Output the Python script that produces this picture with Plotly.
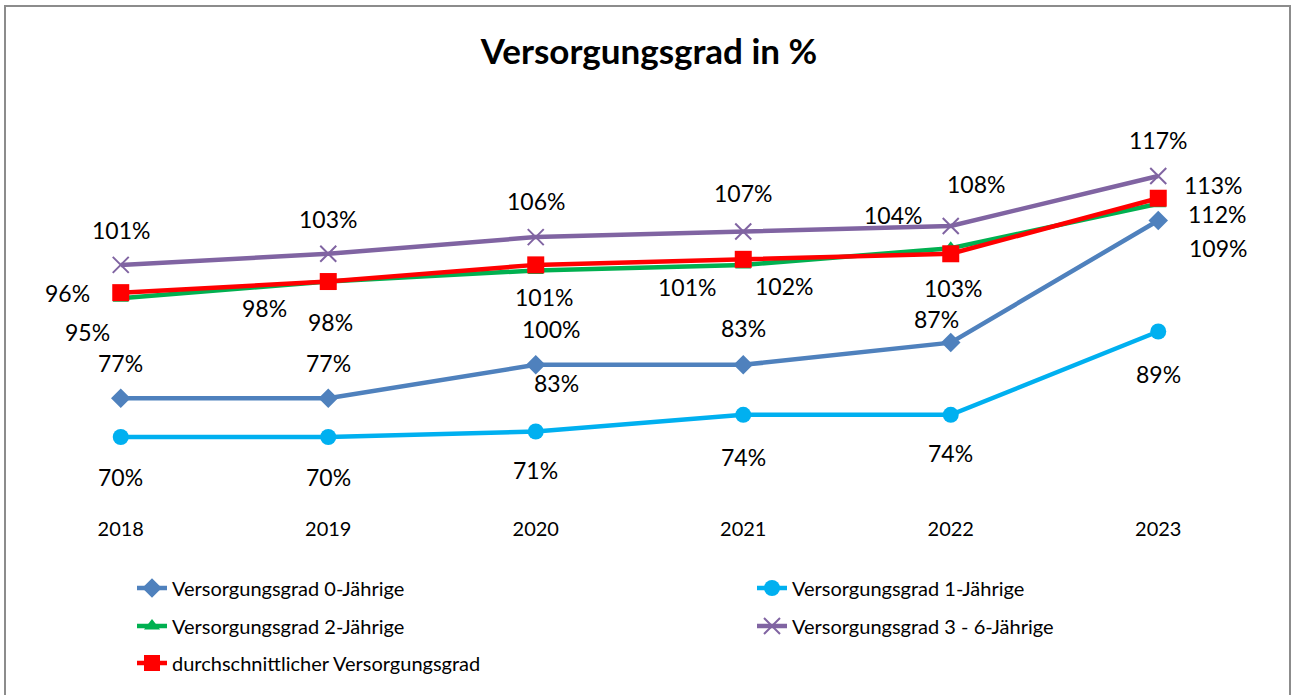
import plotly.graph_objects as go

years = ["2018", "2019", "2020", "2021", "2022", "2023"]
names = [
    "Versorgungsgrad 0-Jährige",
    "Versorgungsgrad 1-Jährige",
    "Versorgungsgrad 2-Jährige",
    "Versorgungsgrad 3 - 6-Jährige",
    "durchschnittlicher Versorgungsgrad",
]
v0 = [77, 77, 83, 83, 87, 109]
v1 = [70, 70, 71, 74, 74, 89]
v2 = [95, 98, 100, 101, 104, 112]
v36 = [101, 103, 106, 107, 108, 117]
vavg = [96, 98, 101, 102, 103, 113]

series = [v0, v1, v2, v36, vavg]

# styles
colors = ["#4F81BD", "#00B0F0", "#00B050", "#8064A2", "#FF0000"]
symbols = ["diamond", "circle", "triangle-up", "x-thin", "square"]
msizes = [15, 16, 14, 16, 17]

# label pixel offsets (dx, dy) per series per point (screen px, dy positive = down)
label_offsets = [
    [(0, -35), (0, -35), (21, 18), (0, -37), (-14, -24), (60, 28)],
    [(0, 40), (0, 40), (0, 39), (0, 42), (0, 38), (0, 42)],
    [(-33, 34), (2, 40), (15, 59), (-56, 22), (-58, -33), (59, 10)],
    [(0, -35), (0, -35), (0, -36), (0, -39), (25, -42), (0, -36)],
    [(-53, 0), (-64, 26), (8, 32), (41, 27), (2, 34), (55, -13)],
]

FONT = "Lato"
fig = go.Figure()
legend_ids = ["legend", "legend2", "legend3", "legend4", "legend5"]
for i, (name, vals) in enumerate(zip(names, series)):
    marker = dict(symbol=symbols[i], size=msizes[i], color=colors[i])
    if symbols[i] == "x-thin":
        marker["line"] = dict(color=colors[i], width=2)
    fig.add_trace(go.Scatter(
        x=years, y=vals, mode="lines+markers", name=name,
        line=dict(color=colors[i], width=4.5),
        marker=marker, legend=legend_ids[i], cliponaxis=False,
    ))

annotations = []
for i, vals in enumerate(series):
    for j, v in enumerate(vals):
        dx, dy = label_offsets[i][j]
        annotations.append(dict(
            x=j, y=v, xref="x", yref="y", text=f"{v}%",
            showarrow=False, xshift=dx, yshift=-dy, borderpad=0,
            font=dict(family=FONT, size=23, color="#000000"),
        ))

W, H = 1292, 695
ml, mr, mt, mb = 17, 30, 100, 180
plot_w = W - ml - mr
plot_h = H - mt - mb

def px_x(p):
    return (p - ml) / plot_w

def px_y(p):
    return (H - mb - p) / plot_h

legend_pos = [(132, 588), (752, 588), (132, 626), (752, 626), (132, 663)]
legend_layouts = {}
for lid, (lx, ly) in zip(legend_ids, legend_pos):
    legend_layouts[lid] = dict(
        x=px_x(lx), y=px_y(ly), xanchor="left", yanchor="middle",
        xref="paper", yref="paper",
        font=dict(family=FONT, size=20, color="#000000"),
        bgcolor="rgba(0,0,0,0)", orientation="h",
    )

fig.update_layout(
    width=W, height=H,
    margin=dict(l=ml, r=mr, t=mt, b=mb),
    paper_bgcolor="white", plot_bgcolor="white",
    title=dict(text="<b>Versorgungsgrad in %</b>", x=649 / W, xref="container",
               y=1 - 52 / H, yref="container", xanchor="center", yanchor="middle",
               font=dict(family=FONT, size=35, color="#000000")),
    xaxis=dict(type="category", range=[-0.5, 5.5], showgrid=False, zeroline=False,
               showline=False, ticks="", tickfont=dict(family=FONT, size=20, color="#000000")),
    yaxis=dict(range=[55.96, 130.69], visible=False),
    annotations=annotations,
    showlegend=True,
    shapes=[dict(type="rect", xref="paper", yref="paper",
                 x0=px_x(5), x1=px_x(1290), y0=px_y(720), y1=px_y(6),
                 line=dict(color="#8C8C8C", width=2), fillcolor="rgba(0,0,0,0)", layer="below")],
    **legend_layouts,
)

fig.write_html("out.html", config={"displayModeBar": False},
               post_script="document.body.style.margin='0';document.body.style.overflow='hidden';")
